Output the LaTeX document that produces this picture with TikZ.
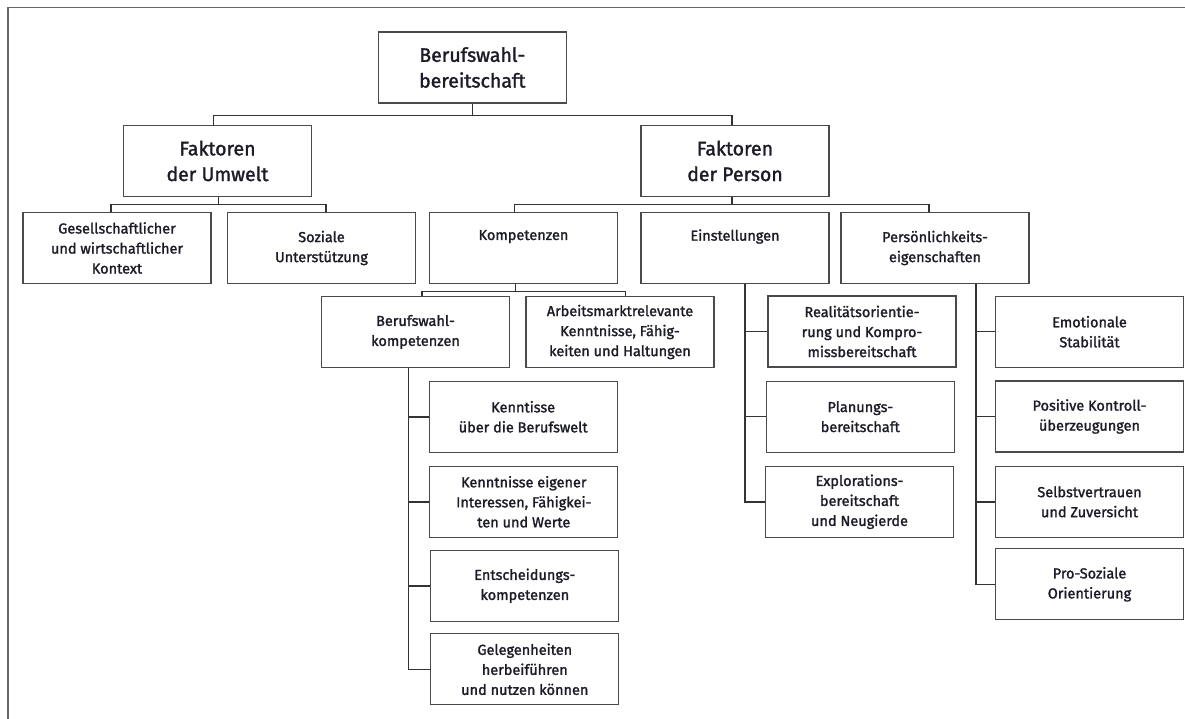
\documentclass[tikz,border=0pt]{standalone}
\usepackage{fontspec}
\setmainfont{Fira Sans}[RawFeature={embolden=1.6}]
\definecolor{boxgray}{HTML}{4A4A4A}
\definecolor{linegray}{HTML}{333333}
\definecolor{framegray}{HTML}{666666}
\definecolor{txt}{HTML}{1C1C28}
\begin{document}
\begin{tikzpicture}[x=1pt,y=-1pt,
  box/.style={draw=boxgray, line width=1.3pt, minimum width=188pt, minimum height=71pt,
    inner sep=0pt, align=center, text=txt, font=\fontsize{14.5}{20}\selectfont},
  bigbox/.style={box, font=\fontsize{19.5}{25.7}\selectfont},
  conn/.style={draw=linegray, line width=1.5pt},
  frameline/.style={draw=framegray, line width=1.8pt}]
\useasboundingbox (0,0) rectangle (1185,719);
\draw[frameline] (8,719) -- (8,7.5) -- (1185,7.5);

% levels 1-2
\node[bigbox] (root) at (472.3,67.5) {Berufswahl-\\bereitschaft};
\node[bigbox] (umw) at (217.5,161) {Faktoren\\der Umwelt};
\node[bigbox] (per) at (735,161) {Faktoren\\der Person};

% level 3
\node[box] (ges) at (117,248) {Gesellschaftlicher\\und wirtschaftlicher\\Kontext};
\node[box] (soz) at (321.5,248) {Soziale\\Unterstützung};
\node[box] (kom) at (523.5,248) {Kompetenzen\\\strut};
\node[box] (ein) at (735,248) {Einstellungen\\\strut};
\node[box] (pse) at (935,248) {Persönlichkeits-\\eigenschaften};

% level 4
\node[box] (bwk) at (415.5,332) {Berufswahl-\\kompetenzen};
\node[box] (arb) at (620,332) {Arbeitsmarktrelevante\\Kenntnisse, Fähig-\\keiten und Haltungen};

\node[box] (k1) at (523.2,416.8) {Kenntisse\\über die Berufswelt};
\node[box] (k2) at (523.8,501.8) {Kenntnisse eigener\\Interessen, Fähigkei-\\ten und Werte};
\node[box] (k3) at (524.8,585.8) {Entscheidungs-\\kompetenzen};
\node[box] (k4) at (524.8,669.3) {Gelegenheiten\\herbeiführen\\und nutzen können};

\node[box] (e1) at (862,331.5) {Realitätsorientie-\\rung und Kompro-\\missbereitschaft};
\node[box] (e2) at (860.3,416.7) {Planungs-\\bereitschaft};
\node[box] (e3) at (859.5,501.8) {Explorations-\\bereitschaft\\und Neugierde};

\node[box] (p1) at (1089.5,331.7) {Emotionale\\Stabilität};
\node[box] (p2) at (1089.5,416.5) {Positive Kontroll-\\überzeugungen};
\node[box] (p3) at (1089.5,501.8) {Selbstvertrauen\\und Zuversicht};
\node[box] (p4) at (1089.5,584.3) {Pro-Soziale\\Orientierung};

% bus levels
\coordinate (L1) at (0,115.7);
\coordinate (L2) at (0,204.5);
\coordinate (L3) at (0,291.3);

% root -> factors
\coordinate (umwN) at ([xshift=-4pt]umw.north);
\coordinate (perN) at ([xshift=-3pt]per.north);
\draw[conn] (root.south) -- (root.south |- L1);
\draw[conn] (umwN) -- (umwN |- L1) -- (perN |- L1) -- (perN);

% Umwelt
\coordinate (umwS) at ([xshift=1pt]umw.south);
\coordinate (gesN) at ([xshift=-6pt]ges.north);
\coordinate (sozN) at ([xshift=4.5pt]soz.north);
\draw[conn] (umwS) -- (umwS |- L2);
\draw[conn] (gesN) -- (gesN |- L2) -- (sozN |- L2) -- (sozN);

% Person
\coordinate (perS) at ([xshift=-3pt]per.south);
\coordinate (komN) at ([xshift=-9pt]kom.north);
\coordinate (pseN) at ([xshift=-6pt]pse.north);
\draw[conn] (perS) -- (perS |- L2);
\draw[conn] (komN) -- (komN |- L2) -- (pseN |- L2) -- (pseN);

% Kompetenzen
\coordinate (komS) at ([xshift=-8pt]kom.south);
\coordinate (bwkN) at ([xshift=6.5pt]bwk.north);
\coordinate (arbN) at ([xshift=5.7pt]arb.north);
\draw[conn] (komS) -- (komS |- L3);
\draw[conn] (bwkN) -- (bwkN |- L3) -- (arbN |- L3) -- (arbN);

% Berufswahlkompetenzen
\coordinate (bwkS) at ([xshift=-7pt]bwk.south);
\draw[conn] (bwkS) |- (k4.west);
\foreach \c in {k1,k2,k3} \draw[conn] (bwkS |- \c.west) -- (\c.west);

% Einstellungen
\coordinate (einS) at ([xshift=10pt]ein.south);
\draw[conn] (einS) |- (e3.west);
\foreach \c in {e1,e2} \draw[conn] (einS |- \c.west) -- (\c.west);

% Persoenlichkeitseigenschaften
\coordinate (pseS) at ([xshift=41pt]pse.south);
\draw[conn] (pseS) |- (p4.west);
\foreach \c in {p1,p2,p3} \draw[conn] (pseS |- \c.west) -- (\c.west);
\end{tikzpicture}
\end{document}
